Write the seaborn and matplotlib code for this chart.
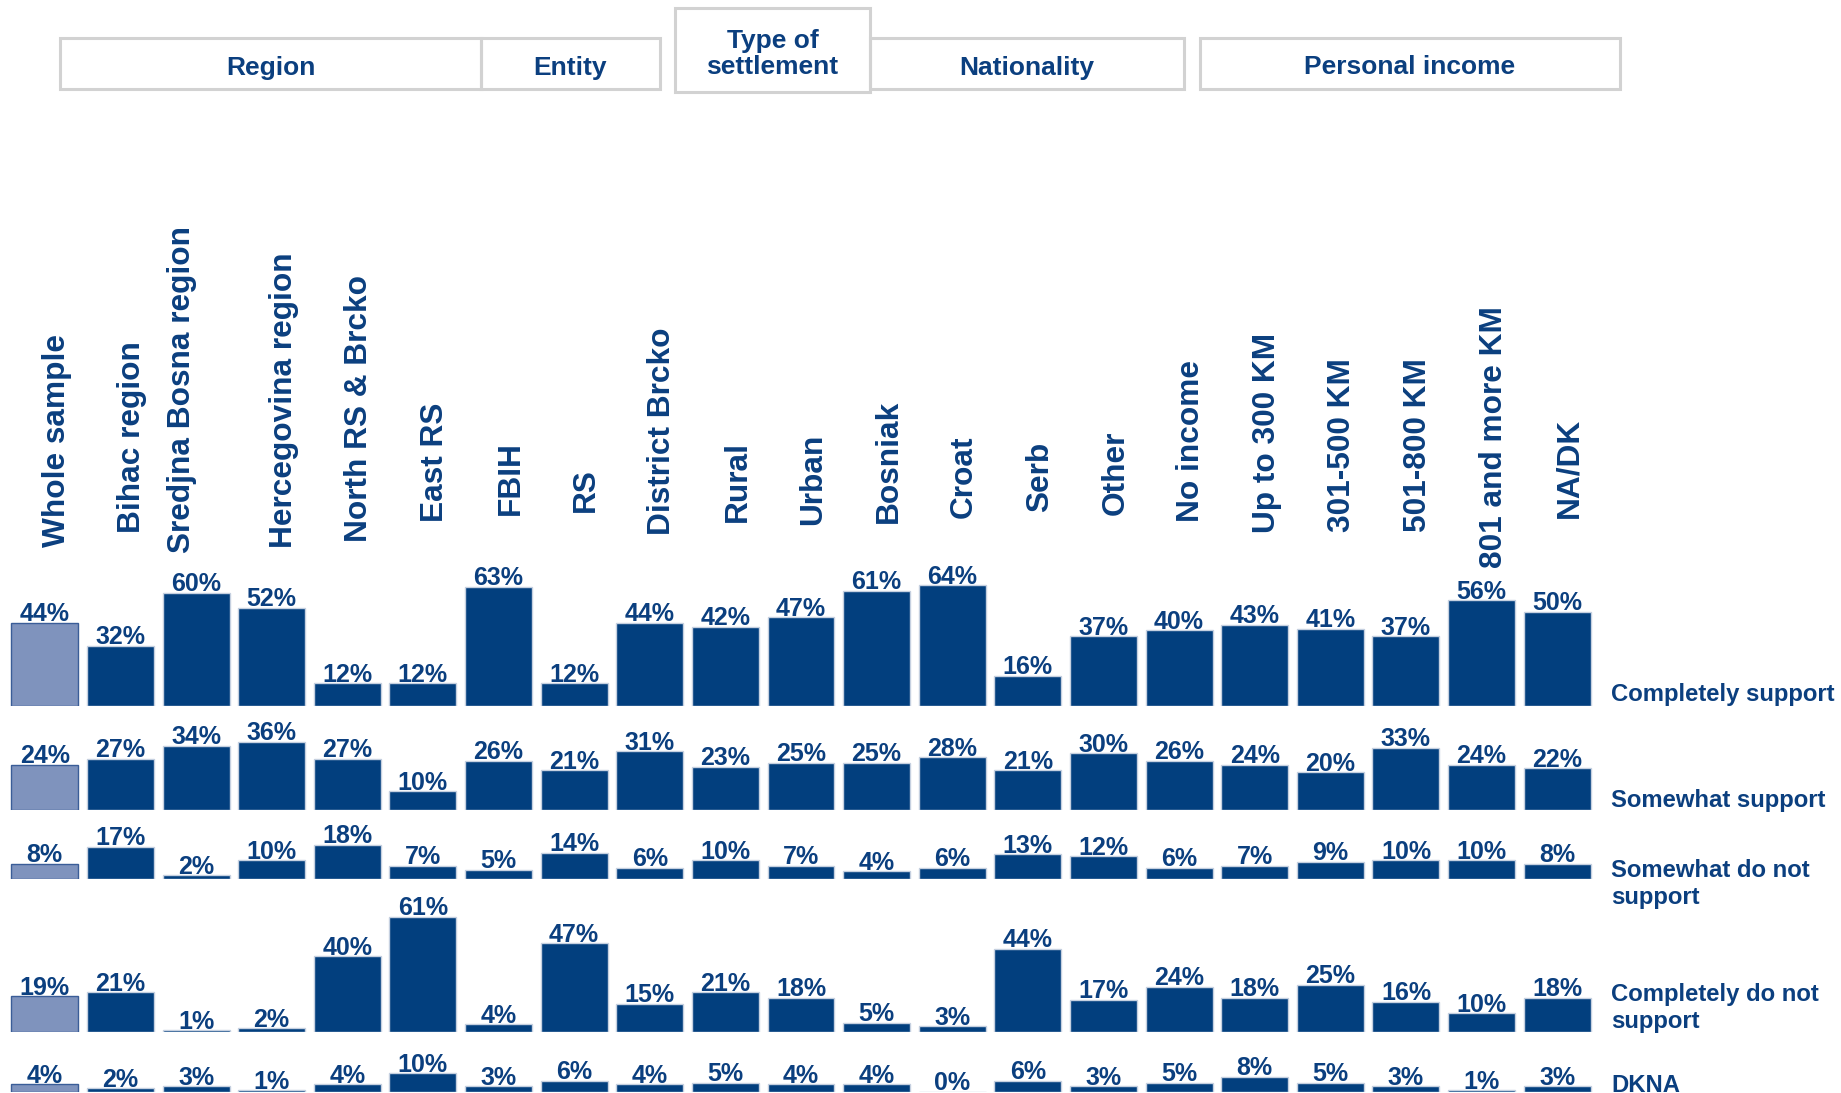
import numpy as np
import pandas as pd
import matplotlib.pyplot as plt
import matplotlib.transforms as mtrans
from matplotlib.patches import Rectangle
import seaborn as sns

sns.set_style('white')
plt.rcParams['font.family'] = ['Liberation Sans', 'DejaVu Sans']

# data
groups = ['Whole sample', 'Bihac region', 'Sredjna Bosna region', 'Hercegovina region',
          'North RS & Brcko', 'East RS', 'FBIH', 'RS', 'District Brcko', 'Rural', 'Urban',
          'Bosniak', 'Croat', 'Serb', 'Other', 'No income', 'Up to 300 KM', '301-500 KM',
          '501-800 KM', '801 and more KM', 'NA/DK']
answers = ['Completely support', 'Somewhat support', 'Somewhat do not\nsupport',
           'Completely do not\nsupport', 'DKNA']
completely_support = [44, 32, 60, 52, 12, 12, 63, 12, 44, 42, 47, 61, 64, 16, 37, 40, 43, 41, 37, 56, 50]
somewhat_support = [24, 27, 34, 36, 27, 10, 26, 21, 31, 23, 25, 25, 28, 21, 30, 26, 24, 20, 33, 24, 22]
somewhat_not = [8, 17, 2, 10, 18, 7, 5, 14, 6, 10, 7, 4, 6, 13, 12, 6, 7, 9, 10, 10, 8]
completely_not = [19, 21, 1, 2, 40, 61, 4, 47, 15, 21, 18, 5, 3, 44, 17, 24, 18, 25, 16, 10, 18]
dkna = [4, 2, 3, 1, 4, 10, 3, 6, 4, 5, 4, 4, 0, 6, 3, 5, 8, 5, 3, 1, 3]
rows = [completely_support, somewhat_support, somewhat_not, completely_not, dkna]

headers = ['Region', 'Entity', 'Type of\nsettlement', 'Nationality', 'Personal income']

# layout (pixels)
W, H = 1841, 1093
DARK = '#023f7e'
LIGHT = '#7f93bd'
TXT = '#0b3f7f'
px_per_pct = 1.89
baselines = [706, 810, 879, 1032, 1092]
row_label_y = [695, 800, 884, 1008, 1085]
label_bottoms = [547, 533, 553, 548, 542, 522, 515, 512, 535, 522, 525, 523,
                 518, 512, 515, 522, 533, 532, 532, 568, 518]
label_dx = [12] * len(groups)
label_dx[2] = -14
header_boxes = [(60, 38, 481, 89), (481, 38, 660, 89), (675, 8, 870, 92),
                (870, 38, 1184, 89), (1200, 38, 1620, 89)]
bars_left, bars_right = 7, 1595

fig = plt.figure(figsize=(W / 100, H / 100), dpi=100)
ax0 = fig.add_axes([0, 0, 1, 1])
ax0.set_xlim(0, W)
ax0.set_ylim(H, 0)
ax0.axis('off')

# header boxes
for (x0, y0, x1, y1), name in zip(header_boxes, headers):
    ax0.add_patch(Rectangle((x0, y0), x1 - x0, y1 - y0, fill=False,
                            edgecolor='#d2d2d2', linewidth=2.2))
    ax0.text((x0 + x1) / 2, (y0 + y1) / 2 + 4, name, ha='center', va='center',
             fontsize=19, fontweight='bold', color=TXT, linespacing=1.15)

# one row of bars per answer
axh = 200
bar_axes = []
for i, vals in enumerate(rows):
    bottom = 1 - baselines[i] / H
    ax = fig.add_axes([bars_left / W, bottom, (bars_right - bars_left) / W, axh / H])
    df = pd.DataFrame({'group': groups, 'pct': vals})
    sns.barplot(data=df, x='group', y='pct', color=DARK, saturation=1, width=0.886,
                edgecolor='#c5d0e0', linewidth=1, ax=ax, errorbar=None)
    ax.patches[0].set_facecolor(LIGHT)
    ax.patches[0].set_edgecolor('#3a5d98')
    ax.set_xlim(-0.5, len(groups) - 0.5)
    ax.set_ylim(0, axh / px_per_pct)
    ax.patch.set_alpha(0)
    ax.axis('off')
    ax.bar_label(ax.containers[0], labels=[f'{v}%' for v in vals], padding=-2.5,
                 fontsize=18, fontweight='bold', color=TXT, clip_on=False)
    ax0.text(1611, row_label_y[i], answers[i], ha='left', va='center', fontsize=17.2,
             fontweight='bold', color=TXT, linespacing=1.26)
    bar_axes.append(ax)

# rotated column labels
for j, g in enumerate(groups):
    tr = mtrans.blended_transform_factory(bar_axes[0].transData, ax0.transData)
    tr = tr + mtrans.ScaledTranslation(label_dx[j] / 100, 0, fig.dpi_scale_trans)
    ax0.text(j, label_bottoms[j], g, transform=tr, rotation=90, ha='center', va='bottom',
             fontsize=22.8, fontweight='bold', color=TXT)

fig.savefig('out.png', dpi=100, facecolor='white')
